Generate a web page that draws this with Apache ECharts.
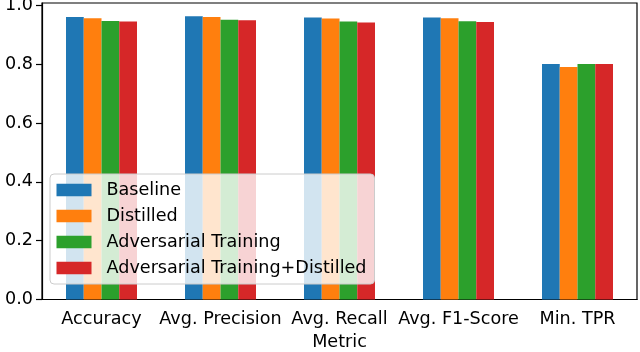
<!DOCTYPE html>
<html>
<head>
<meta charset="utf-8">
<script src="https://cdn.jsdelivr.net/npm/echarts@6/dist/echarts.min.js"></script>
<style>
  html, body { margin: 0; padding: 0; background: #fff; }
  #main { width: 640px; height: 352px; }
</style>
</head>
<body>
<div id="main"></div>
<script>
// data
const categories = ["Accuracy", "Avg. Precision", "Avg. Recall", "Avg. F1-Score", "Min. TPR"];
const baseline = [0.960, 0.963, 0.959, 0.959, 0.801];
const distilled = [0.956, 0.960, 0.955, 0.956, 0.790];
const adversarial = [0.947, 0.951, 0.945, 0.946, 0.801];
const advDistilled = [0.945, 0.949, 0.942, 0.943, 0.801];
const yTicks = [0, 0.2, 0.4, 0.6, 0.8, 1.0];

const seriesNames = ["Baseline", "Distilled", "Adversarial Training", "Adversarial Training+Distilled"];
const colors = ["#1f77b4", "#ff7f0e", "#2ca02c", "#d62728"];
const values = [baseline, distilled, adversarial, advDistilled];

const font = "DejaVu Sans";
const fs = 17.6;
const chart = echarts.init(document.getElementById("main"));

chart.setOption({
  animation: false,
  textStyle: { fontFamily: font },
  grid: {
    left: 42, right: 3, top: 3, bottom: 52.5,
    outerBoundsMode: "none",
    containLabel: false,
    show: true, borderColor: "#000", borderWidth: 1.2,
    backgroundColor: "transparent"
  },
  legend: {
    orient: "vertical",
    left: 50, top: 174,
    icon: "rect",
    itemWidth: 35, itemHeight: 12.5, itemGap: 6,
    padding: [6, 8, 6, 6.5],
    backgroundColor: "rgba(255,255,255,0.8)",
    borderColor: "#cccccc", borderWidth: 1, borderRadius: 4,
    textStyle: { fontFamily: font, fontSize: fs, color: "#000", lineHeight: 20, padding: [0, 0, 0, 10] },
    data: seriesNames
  },
  xAxis: {
    type: "category",
    data: categories,
    name: "Metric",
    nameLocation: "middle",
    nameGap: 34,
    nameTextStyle: { fontFamily: font, fontSize: fs, color: "#000" },
    axisLine: { lineStyle: { color: "#000", width: 1.2 } },
    axisTick: { alignWithLabel: true, length: 6, lineStyle: { color: "#000", width: 1.2 } },
    axisLabel: { interval: 0, margin: 11, fontFamily: font, fontSize: fs, color: "#000" },
    splitLine: { show: false }
  },
  yAxis: {
    type: "value",
    min: 0,
    max: 1.008,
    axisLine: { show: true, lineStyle: { color: "#000", width: 1.2 } },
    axisTick: { show: true, length: 6, lineStyle: { color: "#000", width: 1.2 }, customValues: yTicks },
    axisLabel: {
      margin: 9, fontFamily: font, fontSize: fs, color: "#000",
      customValues: yTicks,
      formatter: v => v.toFixed(1)
    },
    splitLine: { show: false }
  },
  series: seriesNames.map((name, i) => ({
    name: name,
    type: "bar",
    data: values[i],
    barWidth: 17.75,
    barGap: "0%",
    itemStyle: { color: colors[i] }
  }))
});
</script>
</body>
</html>
